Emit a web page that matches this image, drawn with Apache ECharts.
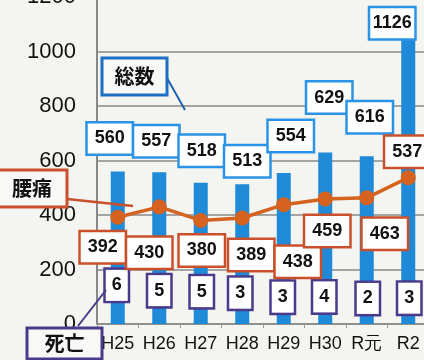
<!DOCTYPE html>
<html>
<head>
<meta charset="utf-8">
<script src="https://cdn.jsdelivr.net/npm/echarts@6/dist/echarts.min.js"></script>
<style>
html,body{margin:0;padding:0;background:#f4f4f0;}
#c{width:424px;height:360px;}
</style>
</head>
<body>
<div id="c"></div>
<script>
// ---- data ----
const categories = ['H25','H26','H27','H28','H29','H30','R元','R2'];
const totalCases = [560, 557, 518, 513, 554, 629, 616, 1126];   // 総数
const backPain   = [392, 430, 380, 389, 438, 459, 463, 537];    // 腰痛
const deaths     = [6, 5, 5, 3, 3, 4, 2, 3];                    // 死亡
const yTicks     = [0, 200, 400, 600, 800, 1000, 1200];

// label nudges (layout only, in px)
const totalLabelShift = [[-8,-33],[-3,-31],[1,-32],[5,-23],[7,-37],[4,-55],[3,-39],[-16,6]];
const painLabelShift  = [[-15,30],[-10,46],[1,30],[9,37],[14,57],[2,32],[18,36],[-1,-26]];
const deathLabelShift = [[-1,-37],[0,-32],[1,-31],[-2,-30],[-1,-26],[-1,-26],[1,-25],[1,-25]];

const FONT = '"Liberation Sans", Arial, sans-serif';
const BLUE = '#1f8ad8';
const ORANGE = '#d5621f';
const PURPLE = '#4b3a8c';

function boxLabel(border, w, h, size){
  return {
    show: true,
    fontFamily: FONT, fontSize: size, fontWeight: 'bold', color: '#111',
    backgroundColor: '#ffffff', borderColor: border, borderWidth: 2.5,
    width: w, height: h, lineHeight: h, align: 'center', verticalAlign: 'middle'
  };
}

const chart = echarts.init(document.getElementById('c'), null, {renderer:'canvas'});
chart.setOption({
  backgroundColor: '#f4f4f0',
  animation: false,
  grid: {left: 97, top: -3, height: 327, width: 332, containLabel: false, outerBoundsMode: 'none'},
  xAxis: {
    type: 'category', data: categories,
    axisLine: {lineStyle: {color: '#888', width: 1.5}},
    axisTick: {show: true, length: 4, lineStyle: {color: '#999'}},
    axisLabel: {fontFamily: FONT, fontSize: 18, color: '#111', margin: 11, interval: 0, hideOverlap: false}
  },
  yAxis: {
    type: 'value', min: yTicks[0], max: yTicks[yTicks.length-1], interval: 200,
    axisLine: {show: true, lineStyle: {color: '#888', width: 2}},
    axisTick: {show: false},
    splitLine: {lineStyle: {color: '#8a8a8a', width: 1.5}},
    axisLabel: {fontFamily: FONT, fontSize: 22, color: '#111', margin: 21, formatter: v => String(v), showMaxLabel: true}
  },
  series: [
    {
      name: '総数', type: 'bar', barWidth: 14, z: 2,
      itemStyle: {color: BLUE},
      data: totalCases.map((v,i) => ({
        value: v,
        label: Object.assign(boxLabel('#2b93e6', 44, 30, 18), {
          position: 'top', distance: 0, offset: totalLabelShift[i]
        })
      }))
    },
    {
      name: '死亡', type: 'bar', barWidth: 14, barGap: '-100%', z: 3,
      itemStyle: {color: BLUE},
      data: deaths.map((v,i) => ({
        value: v,
        label: Object.assign(boxLabel(PURPLE, 22, 31, 18), {
          position: 'top', distance: 0, offset: deathLabelShift[i]
        })
      }))
    },
    {
      name: '腰痛', type: 'line', z: 5,
      symbol: 'circle', symbolSize: 15,
      lineStyle: {color: ORANGE, width: 3.5},
      itemStyle: {color: ORANGE},
      data: backPain.map((v,i) => ({
        value: v,
        label: Object.assign(boxLabel('#c9502b', 44, 30, 18), {
          position: 'inside', offset: painLabelShift[i]
        })
      }))
    }
  ],
  graphic: [
    // 総数 callout
    {type:'line', shape:{x1:167,y1:78,x2:185,y2:110}, style:{stroke:'#1d5fb0', lineWidth:2}, z:20},
    {type:'rect', shape:{x:102,y:58,width:65,height:37}, style:{fill:'#f8f8f6', stroke:'#1d6fc4', lineWidth:3}, z:20},
    {type:'text', x:134.5, y:76.5, style:{text:'総数', font:'bold 20px "Noto Sans CJK JP"', fill:'#111', align:'center', verticalAlign:'middle'}, z:21},
    // 腰痛 callout
    {type:'line', shape:{x1:67,y1:199,x2:133,y2:206}, style:{stroke:'#c9502b', lineWidth:2.5}, z:20},
    {type:'rect', shape:{x:-3,y:170,width:70,height:37}, style:{fill:'#f8f8f6', stroke:'#c9502b', lineWidth:3}, z:20},
    {type:'text', x:32, y:188.5, style:{text:'腰痛', font:'bold 20px "Noto Sans CJK JP"', fill:'#111', align:'center', verticalAlign:'middle'}, z:21},
    // 死亡 callout
    {type:'line', shape:{x1:78,y1:326,x2:106,y2:290}, style:{stroke:PURPLE, lineWidth:2}, z:20},
    {type:'rect', shape:{x:27,y:328,width:75,height:31}, style:{fill:'#f8f8f6', stroke:PURPLE, lineWidth:3}, z:20},
    {type:'text', x:64.5, y:343.5, style:{text:'死亡', font:'bold 20px "Noto Sans CJK JP"', fill:'#111', align:'center', verticalAlign:'middle'}, z:21}
  ]
});
</script>
</body>
</html>
